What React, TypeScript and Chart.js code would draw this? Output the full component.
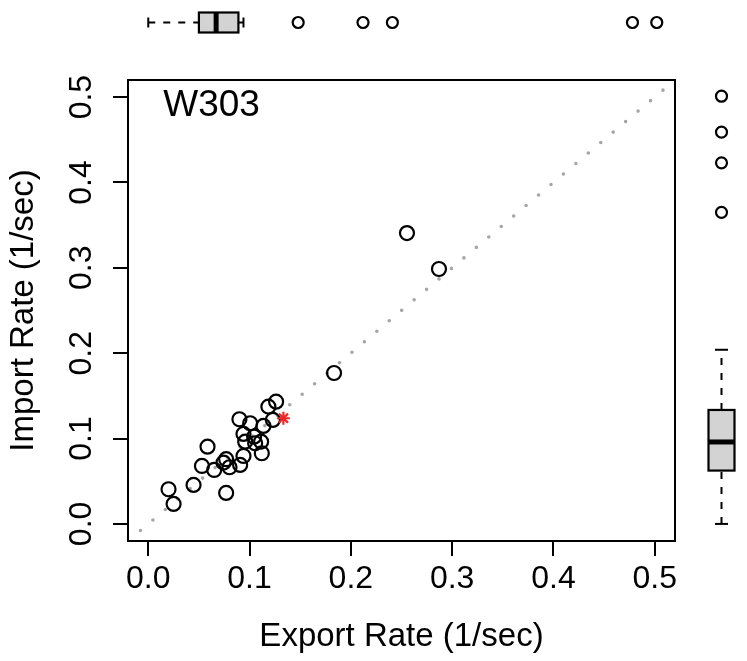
import { useEffect, useRef } from 'react';
import { Chart, registerables } from 'chart.js';

Chart.register(...registerables);

// ---- data ----
const exportRate = [
  0.1262, 0.1186, 0.09, 0.1006, 0.1137, 0.123, 0.094, 0.1045, 0.0957, 0.1055,
  0.1114, 0.0585, 0.1121, 0.094, 0.0769, 0.0743, 0.0907, 0.0802, 0.053, 0.0651,
  0.0447, 0.02, 0.0769, 0.025, 0.2554, 0.287, 0.1834,
];
const importRate = [
  0.1432, 0.1374, 0.1226, 0.1179, 0.1148, 0.1218, 0.1054, 0.1022, 0.0964, 0.0945,
  0.0964, 0.0905, 0.0828, 0.0796, 0.0758, 0.0718, 0.0691, 0.0664, 0.0679, 0.0632,
  0.0457, 0.0406, 0.0363, 0.0234, 0.3407, 0.2986, 0.1768,
];
const highlightExport = [0.1334];
const highlightImport = [0.1238];

const axisTicks = [0, 0.1, 0.2, 0.3, 0.4, 0.5];
const axisMin = -0.02;
const axisMax = 0.52;
const diagonal = [-0.02, 0.52];

// boxplot stats: [lower whisker, Q1, median, Q3, upper whisker]
const exportBox = [0.0, 0.05, 0.067, 0.089, 0.094];
const exportOutliers = [0.148, 0.212, 0.241, 0.478, 0.502];
const importBox = [0.0, 0.0625, 0.096, 0.1335, 0.204];
const importOutliers = [0.365, 0.423, 0.459, 0.501];

const panelLabel = 'W303';
const panelLabelPos = [0.0148, 0.49];

const FONT = '"Liberation Sans", Arial, Helvetica, sans-serif';

function drawBox(
  ctx: CanvasRenderingContext2D,
  p: (v: number) => number,
  c: number,
  half: number,
  horizontal: boolean,
  stats: number[],
  outliers: number[]
) {
  const pt = (along: number, across: number): [number, number] =>
    horizontal ? [along, across] : [across, along];
  const line = (a1: number, c1: number, a2: number, c2: number) => {
    ctx.beginPath();
    ctx.moveTo(...pt(a1, c1));
    ctx.lineTo(...pt(a2, c2));
    ctx.stroke();
  };
  const [mn, q1, md, q3, mx] = stats.map(p);
  ctx.strokeStyle = '#000';
  ctx.lineWidth = 2;
  ctx.lineCap = 'butt';
  // whiskers
  ctx.setLineDash([7, 8]);
  line(mn, c, q1, c);
  line(q3, c, mx, c);
  ctx.setLineDash([]);
  // caps
  line(mn, c - half / 2, mn, c + half / 2);
  line(mx, c - half / 2, mx, c + half / 2);
  // box
  const [x1, y1] = pt(Math.min(q1, q3), c - half);
  const [x2, y2] = pt(Math.max(q1, q3), c + half);
  ctx.fillStyle = '#d3d3d3';
  ctx.fillRect(Math.min(x1, x2), Math.min(y1, y2), Math.abs(x2 - x1), Math.abs(y2 - y1));
  ctx.lineWidth = 2.2;
  ctx.strokeRect(Math.min(x1, x2), Math.min(y1, y2), Math.abs(x2 - x1), Math.abs(y2 - y1));
  // median
  ctx.lineWidth = 5;
  line(md, c - half, md, c + half);
  // outliers
  ctx.lineWidth = 2.2;
  outliers.forEach((o) => {
    const [ox, oy] = pt(p(o), c);
    ctx.beginPath();
    ctx.arc(ox, oy, 5.5, 0, Math.PI * 2);
    ctx.stroke();
  });
}

const marginPlugin = {
  id: 'marginBoxes',
  afterDraw(chart: any) {
    const { ctx, chartArea: a, scales } = chart;
    const x = scales.x;
    const y = scales.y;
    ctx.save();
    ctx.strokeStyle = '#000';
    ctx.lineWidth = 2;
    ctx.setLineDash([]);
    ctx.strokeRect(a.left, a.top, a.right - a.left, a.bottom - a.top);
    ctx.font = `37px ${FONT}`;
    ctx.fillStyle = '#000';
    ctx.textAlign = 'left';
    ctx.textBaseline = 'middle';
    ctx.fillText(panelLabel, x.getPixelForValue(panelLabelPos[0]), y.getPixelForValue(panelLabelPos[1]));
    drawBox(ctx, (v) => x.getPixelForValue(v), 22.5, 10, true, exportBox, exportOutliers);
    drawBox(ctx, (v) => y.getPixelForValue(v), 721.5, 13, false, importBox, importOutliers);
    ctx.restore();
  },
};

export default function App() {
  const ref = useRef<HTMLCanvasElement>(null);
  useEffect(() => {
    if (!ref.current) return;
    const tickFont = { family: FONT, size: 32 };
    const titleFont = { family: FONT, size: 33 };
    const grid = {
      display: true,
      drawOnChartArea: false,
      drawTicks: true,
      tickLength: 15,
      color: '#000',
      lineWidth: 2,
    };
    const chart = new Chart(ref.current, {
      type: 'scatter',
      data: {
        datasets: [
          {
            type: 'line',
            data: diagonal.map((v) => ({ x: v, y: v })),
            borderColor: '#a6a6a6',
            borderWidth: 3.6,
            borderDash: [0, 16.27],
            borderCapStyle: 'round',
            pointRadius: 0,
            fill: false,
            order: 3,
          } as any,
          {
            data: exportRate.map((v, i) => ({ x: v, y: importRate[i] })),
            pointRadius: 7,
            pointBorderWidth: 2.2,
            borderColor: '#000',
            backgroundColor: 'rgba(0,0,0,0)',
            pointStyle: 'circle',
            order: 2,
          },
          {
            data: highlightExport.map((v, i) => ({ x: v, y: highlightImport[i] })),
            pointRadius: 6.5,
            pointBorderWidth: 2.2,
            borderColor: 'rgb(235,40,40)',
            backgroundColor: 'rgb(235,40,40)',
            pointStyle: 'star',
            order: 1,
          },
        ],
      },
      options: {
        animation: false,
        responsive: false,
        devicePixelRatio: 1,
        layout: { padding: { left: 0, top: 80, right: 72, bottom: 0 } },
        plugins: { legend: { display: false }, tooltip: { enabled: false } },
        scales: {
          x: {
            type: 'linear',
            min: axisMin,
            max: axisMax,
            afterBuildTicks: (s: any) => {
              s.ticks = axisTicks.map((v) => ({ value: v }));
            },
            afterFit: (s: any) => {
              s.height = 120;
            },
            ticks: {
              callback: (v: any) => Number(v).toFixed(1),
              font: tickFont,
              color: '#000',
              padding: 4,
              maxRotation: 0,
              autoSkip: false,
            },
            grid,
            border: { display: false },
            title: {
              display: true,
              text: 'Export Rate (1/sec)',
              font: titleFont,
              color: '#000',
              padding: { top: 0, bottom: 4 },
            },
          },
          y: {
            type: 'linear',
            min: axisMin,
            max: axisMax,
            afterBuildTicks: (s: any) => {
              s.ticks = axisTicks.map((v) => ({ value: v }));
            },
            afterFit: (s: any) => {
              s.width = 128;
            },
            ticks: {
              callback: (v: any) => Number(v).toFixed(1),
              font: tickFont,
              color: '#000',
              padding: 9,
              minRotation: 90,
              maxRotation: 90,
              crossAlign: 'center',
              autoSkip: false,
            },
            grid,
            border: { display: false },
            title: {
              display: true,
              text: 'Import Rate (1/sec)',
              font: titleFont,
              color: '#000',
              padding: { top: 4, bottom: 0 },
            },
          },
        },
      } as any,
      plugins: [marginPlugin],
    });
    return () => chart.destroy();
  }, []);
  return (
    <div style={{ position: 'absolute', left: 0, top: 0, width: 747, height: 661, background: '#fff' }}>
      <canvas ref={ref} width={747} height={661} style={{ display: 'block' }} />
    </div>
  );
}
